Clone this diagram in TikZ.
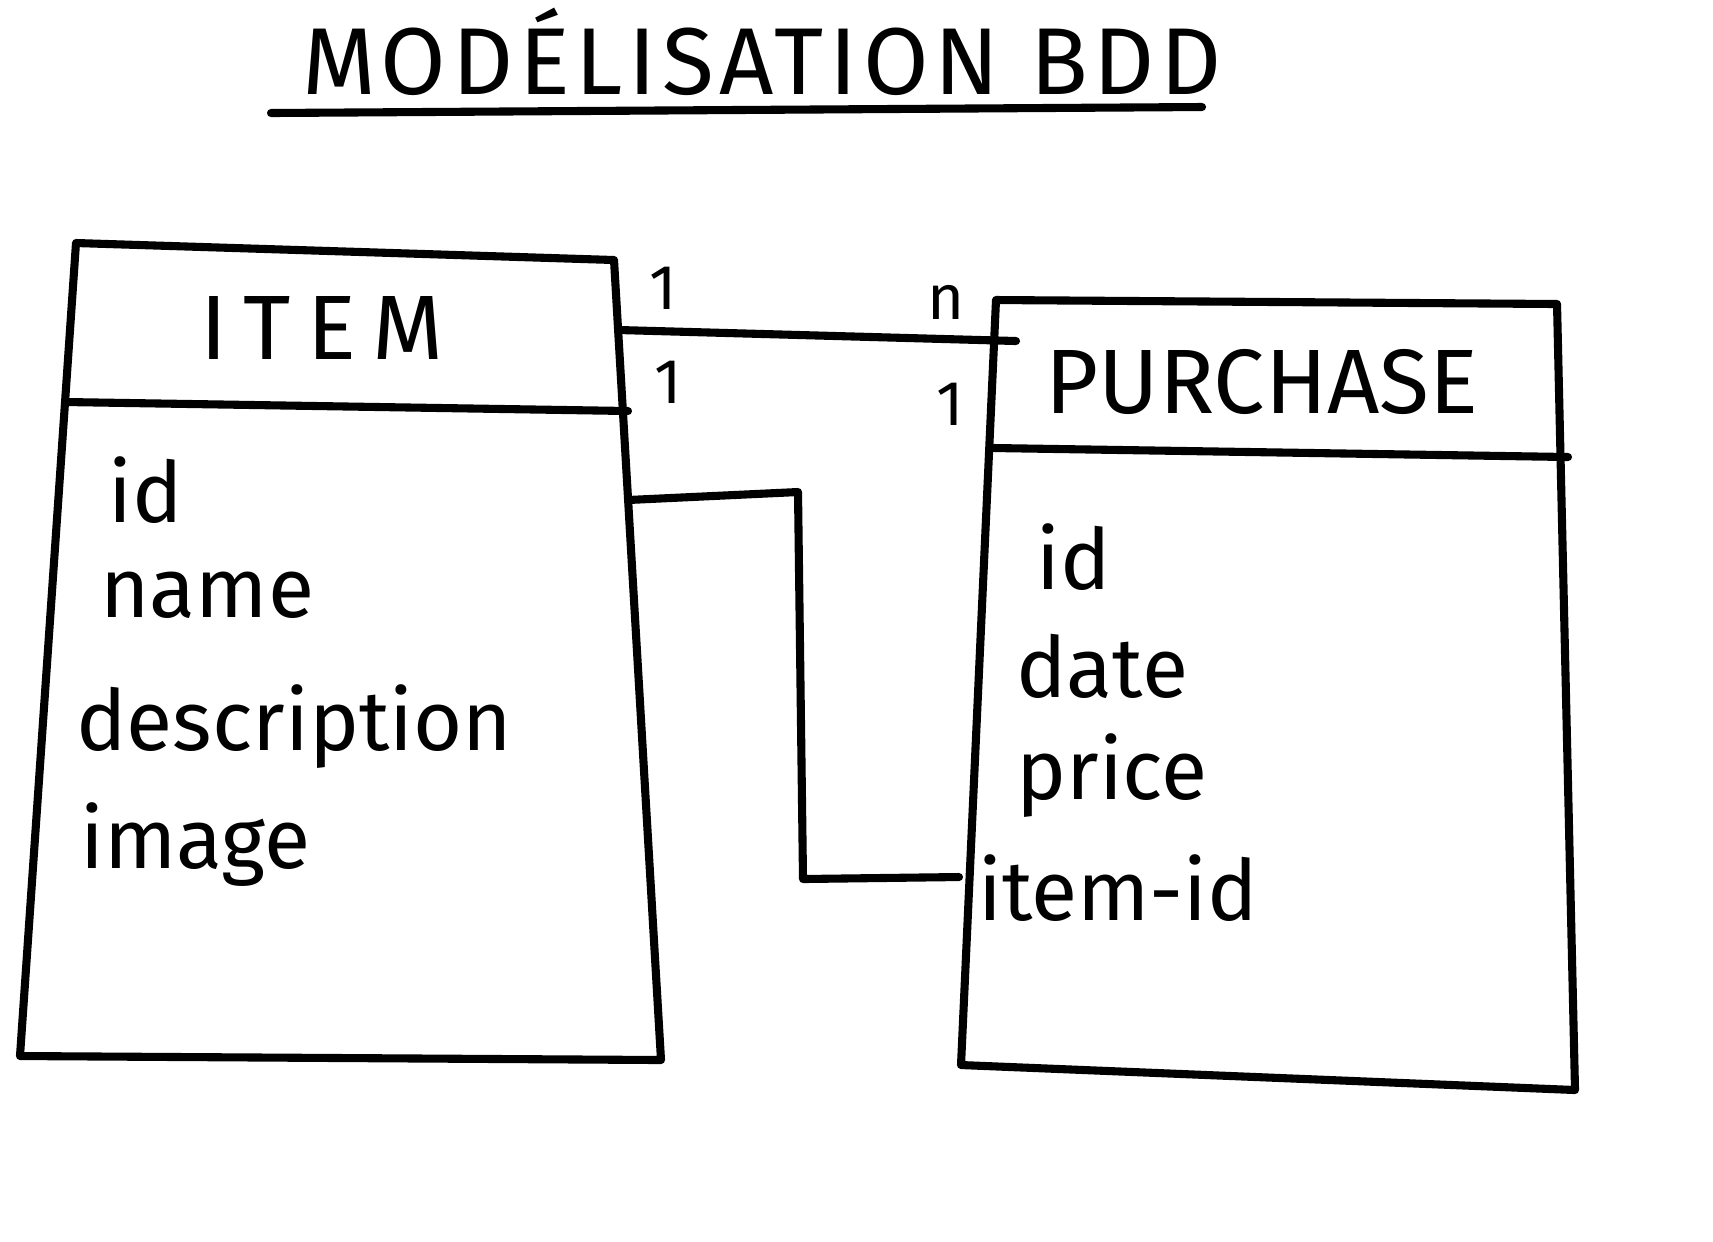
\documentclass[tikz,border=0pt]{standalone}
\usepackage{fontspec}
\setmainfont{Fira Sans}
\usetikzlibrary{positioning}

\begin{document}
\begin{tikzpicture}[x=0.01cm,y=-0.01cm,
  pen/.style={line width=2.3pt,line cap=round,line join=round},
  head/.style={font=\fontsize{26}{30}\selectfont},
  attr/.style={font=\fontsize{24}{30}\selectfont,anchor=west},
  card/.style={font=\fontsize{18}{22}\selectfont}]
  \useasboundingbox (0,0) rectangle (1713,1241);
  % titre
  \node[font=\fontsize{27}{32}\selectfont\addfontfeature{LetterSpace=6}] (titre) at (762,52) {MODÉLISATION BDD};
  \draw[pen] (271,113) -- (1202,107);
  % table ITEM
  \draw[pen] (76,243) -- (614,260) -- (661,1060) -- (20,1056) -- cycle;
  \draw[pen] (66,402) -- (628,411);
  \node[head,font=\fontsize{26}{30}\selectfont\addfontfeature{LetterSpace=18}] (item) at (322,328) {ITEM};
  \node[attr] (itemid) at (96,490) {id};
  \node[attr] (itemname) at (88,595) {name};
  \node[attr] (itemdesc) at (64,727) {description};
  \node[attr] (itemimage) at (68,845) {image};
  % table PURCHASE
  \draw[pen] (996,300) -- (1557,304) -- (1575,1090) -- (961,1065) -- cycle;
  \draw[pen] (994,448) -- (1568,457);
  \node[head] (purchase) at (1262,382) {PURCHASE};
  \node[attr] (purchid) at (1024,557) {id};
  \node[attr] (purchdate) at (1004,666) {date};
  \node[attr] (purchprice) at (1004,776) {price};
  \node[attr] (purchitem) at (966,888) {item-id};
  % liens
  \coordinate (itemA) at (619,330);
  \coordinate (purchA) at (1016,341);
  \draw[pen] (itemA) -- (purchA);
  \node[card] (c1) at (663,288) {1};
  \node[card] (cn) at (946,302) {n};
  \node[card] (c2) at (668,382) {1};
  \node[card] (c3) at (950,404) {1};
  \coordinate (itemB) at (628,500);
  \coordinate (coudeB1) at (798,492);
  \coordinate (coudeB2) at (803,879);
  \coordinate (purchB) at (959,877);
  \draw[pen] (itemB) -- (coudeB1) -- (coudeB2) -- (purchB);
\end{tikzpicture}
\end{document}
